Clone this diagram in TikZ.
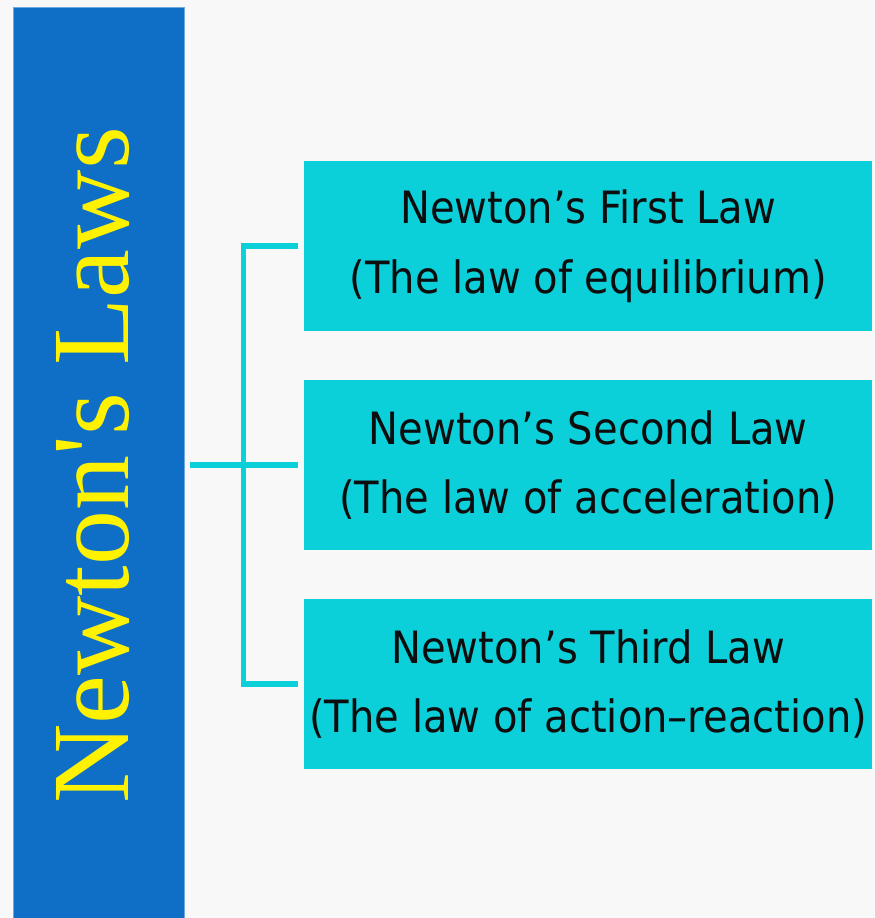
\documentclass[tikz,border=0pt]{standalone}
\usepackage{fontspec}
\usetikzlibrary{calc}
\newfontfamily\titlefont{Liberation Serif}[Ligatures=TeXOff]
\newfontfamily\boxfont{DejaVu Sans}[FakeStretch=0.9]
\definecolor{barblue}{RGB}{15,111,198}
\definecolor{lawcyan}{RGB}{11,207,217}
\definecolor{bgcol}{RGB}{248,248,248}
\definecolor{lawtext}{RGB}{13,13,13}
\begin{document}
\begin{tikzpicture}[x=1pt,y=-1pt,
  lawbox/.style={fill=lawcyan, minimum width=568pt, minimum height=170pt, inner sep=0pt,
    align=center, font=\boxfont\fontsize{44.5}{69.5}\selectfont, anchor=north west, text=lawtext},
  conn/.style={draw=lawcyan, line width=5.5pt}]
\useasboundingbox (0,0) rectangle (875,918);
\fill[bgcol] (0,0) rectangle (875,918);
\node[fill=barblue, draw=barblue!60!white, line width=0.8pt, minimum width=171pt,
  minimum height=915pt, inner sep=0pt, anchor=north west] (bar) at (13,7) {};
\node[rotate=90, anchor=base west, inner sep=0pt, text=yellow,
  font=\titlefont\fontsize{110}{110}\selectfont] (title) at (128,804) {Newton's Laws};
\node[lawbox] (b1) at (304,161) {Newton’s First Law\\(The law of equilibrium)};
\node[lawbox] (b2) at (304,380) {Newton’s Second Law\\(The law of acceleration)};
\node[lawbox] (b3) at (304,599) {Newton’s Third Law\\(The law of action–reaction)};
\coordinate (trunk) at (243.5,465);
\draw[conn] ($(bar.east |- b2.west)+(5,0)$) -- ($(b2.west)+(-6,0)$);
\draw[conn] ($(b1.west)+(-6,0)$) -- (trunk |- b1.west) -- (trunk |- b3.west) -- ($(b3.west)+(-6,0)$);
\end{tikzpicture}
\end{document}
